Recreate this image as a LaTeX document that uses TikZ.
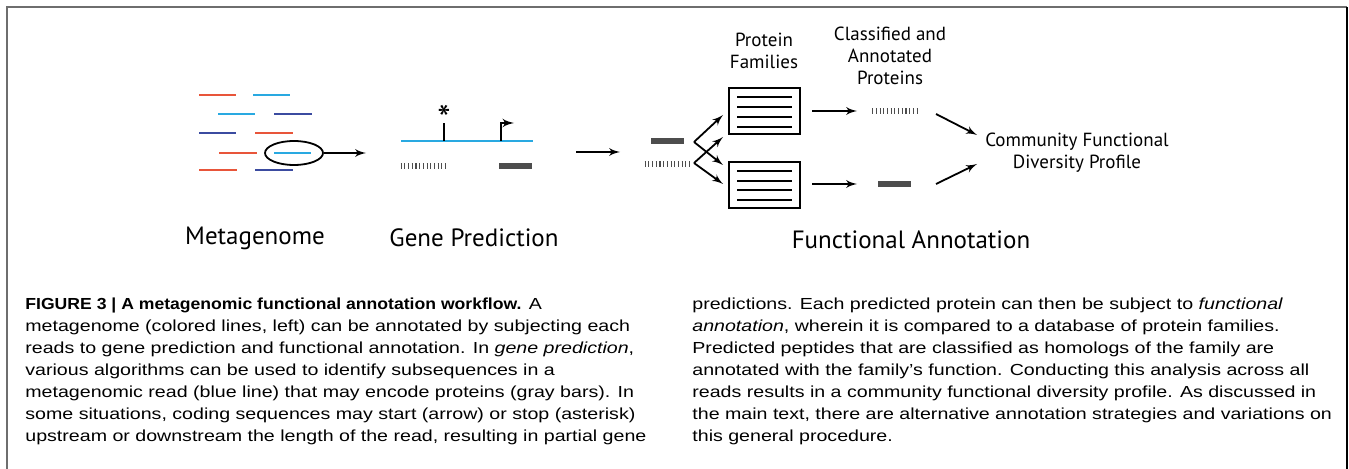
\documentclass[tikz,border=0pt]{standalone}
\usepackage{fontspec}
\setmainfont{PT Sans}
\newfontfamily\capfont[FakeStretch=1.225]{Liberation Sans}
\newfontfamily\capbold[FakeStretch=1.10]{Liberation Sans}
\usetikzlibrary{arrows,shapes.geometric}

\definecolor{readred}{RGB}{232,85,58}
\definecolor{readblue}{RGB}{41,169,225}
\definecolor{readnavy}{RGB}{59,75,160}
\definecolor{bargray}{RGB}{77,77,77}
\definecolor{framegray}{RGB}{110,110,110}

\tikzset{
  read/.style={line width=1pt},
  flow/.style={-latex', line width=0.9pt},
  solidbar/.style={fill=bargray, inner sep=0pt, minimum width=16.5pt, minimum height=3pt},
  hatchbar/.style={inner sep=0pt, minimum width=22pt, minimum height=3pt},
  hatch/.style={bargray, line width=3pt, dash pattern=on 0.55pt off 1.3pt},
  fambox/.style={draw, line width=1pt, inner sep=0pt, minimum width=35.5pt, minimum height=23pt},
  stage/.style={font=\fontsize{12.5}{15}\selectfont},
  note/.style={font=\fontsize{9.5}{11}\selectfont, align=center, inner sep=0pt},
  capline/.style={anchor=base west, inner sep=0pt, font=\capfont\fontsize{8}{11}\selectfont}
}

\begin{document}
\begin{tikzpicture}[x=0.5pt,y=-0.5pt]

\useasboundingbox (0,0) rectangle (1349,469);

% frame
\draw[framegray, line width=1pt] (7,469) -- (7,7) -- (1347,7);
\draw[line width=1pt] (1347,7) -- (1347,469);

% metagenome reads
\draw[read, readred]  (199,95) -- (236,95);
\draw[read, readblue] (253,95) -- (290,95);
\draw[read, readblue] (218,114) -- (255,114);
\draw[read, readnavy] (274,114) -- (312,114);
\draw[read, readnavy] (199,133) -- (236,133);
\draw[read, readred]  (255,133) -- (293,133);
\draw[read, readred]  (219,153) -- (257,153);
\draw[read, readblue] (274,153) -- (311,153);
\draw[read, readred]  (199,170) -- (237,170);
\draw[read, readnavy] (255,170) -- (293,170);

\node[draw, ellipse, line width=0.9pt, minimum width=29pt, minimum height=12pt, inner sep=0pt] (sel) at (294,153) {};
\coordinate (gpin) at (366,153);
\draw[flow] (sel) -- (gpin);

% gene prediction
\draw[read, readblue] (401,141) -- (533,141);
\coordinate (stopfoot) at (444,141);
\coordinate (stoptop) at (444,123);
\draw[line width=1pt] (stopfoot) -- (stoptop);
\node[inner sep=0pt, font=\fontsize{19}{19}\selectfont] (stop) at (444,119) {*};
\coordinate (startfoot) at (501,141);
\coordinate (startbend) at (501,123);
\coordinate (starttip) at (514,123);
\draw[line width=1pt, -latex'] (startfoot) -- (startbend) -- (starttip);

\node[hatchbar] (gphatch) at (423,166) {};
\draw[hatch] (gphatch.west) -- (gphatch.east);
\node[solidbar] (gpsolid) at (515.5,166) {};

\coordinate (gpout) at (576,152);
\coordinate (fain) at (620,152);
\draw[flow] (gpout) -- (fain);

% predicted proteins
\node[solidbar] (psolid) at (667,141) {};
\node[hatchbar] (phatch) at (667,164) {};
\draw[hatch] (phatch.west) -- (phatch.east);

% protein families
\node[fambox] (famtop) at (764.5,111) {};
\draw[line width=1pt] (737,97) -- (792,97);
\draw[line width=1pt] (737,107) -- (792,107);
\draw[line width=1pt] (737,117) -- (792,117);
\draw[line width=1pt] (737,127) -- (792,127);

\node[fambox] (fambot) at (764.5,185) {};
\draw[line width=1pt] (737,171) -- (792,171);
\draw[line width=1pt] (737,181) -- (792,181);
\draw[line width=1pt] (737,190) -- (792,190);
\draw[line width=1pt] (737,200) -- (792,200);

\coordinate (v1) at (694,142);
\coordinate (v2) at (694,163);
\coordinate (a1) at (723,115);
\coordinate (a2) at (723,165);
\coordinate (a3) at (723,137);
\coordinate (a4) at (723,184);
\draw[flow] (v1) -- (a1);
\draw[flow] (v1) -- (a2);
\draw[flow] (v2) -- (a3);
\draw[flow] (v2) -- (a4);

\node[note] (pflabel) at (764,51) {Protein\\Families};

% classified and annotated
\coordinate (t1) at (812,111);
\coordinate (t2) at (857,111);
\coordinate (b1) at (812,184);
\coordinate (b2) at (857,184);
\draw[flow] (t1) -- (t2);
\draw[flow] (b1) -- (b2);

\node[hatchbar] (chatch) at (894.5,111) {};
\draw[hatch] (chatch.west) -- (chatch.east);
\node[solidbar] (csolid) at (894.5,184) {};

\node[note] (calabel) at (890,56) {Classified and\\Annotated\\Proteins};

% community profile
\node[note] (cdp) at (1077,153) {Community Functional\\Diversity Profile};
\coordinate (c1) at (936,114);
\coordinate (c2) at (977,135);
\coordinate (c3) at (936,184);
\coordinate (c4) at (977,164);
\draw[flow] (c1) -- (c2);
\draw[flow] (c3) -- (c4);

% stage labels
\node[stage] (meta) at (255,238) {Metagenome};
\node[stage] (gp) at (474,238) {Gene Prediction};
\node[stage] (fa) at (911,240) {Functional Annotation};

% caption, left column
\node[capline] (l1) at (25,310) {{\capbold\bfseries FIGURE 3 | A metagenomic functional annotation workflow.} A};
\node[capline] (l2) at (25,332) {metagenome (colored lines, left) can be annotated by subjecting each};
\node[capline] (l3) at (25,354) {reads to gene prediction and functional annotation. In \textit{gene prediction},};
\node[capline] (l4) at (25,376) {various algorithms can be used to identify subsequences in a};
\node[capline] (l5) at (25,398) {metagenomic read (blue line) that may encode proteins (gray bars). In};
\node[capline] (l6) at (25,420) {some situations, coding sequences may start (arrow) or stop (asterisk)};
\node[capline] (l7) at (25,442) {upstream or downstream the length of the read, resulting in partial gene};

% caption, right column
\node[capline] (r1) at (692,310) {predictions. Each predicted protein can then be subject to \textit{functional}};
\node[capline] (r2) at (692,332) {\textit{annotation}, wherein it is compared to a database of protein families.};
\node[capline] (r3) at (692,354) {Predicted peptides that are classified as homologs of the family are};
\node[capline] (r4) at (692,376) {annotated with the family’s function. Conducting this analysis across all};
\node[capline] (r5) at (692,398) {reads results in a community functional diversity profile. As discussed in};
\node[capline] (r6) at (692,420) {the main text, there are alternative annotation strategies and variations on};
\node[capline] (r7) at (692,442) {this general procedure.};

\end{tikzpicture}
\end{document}
